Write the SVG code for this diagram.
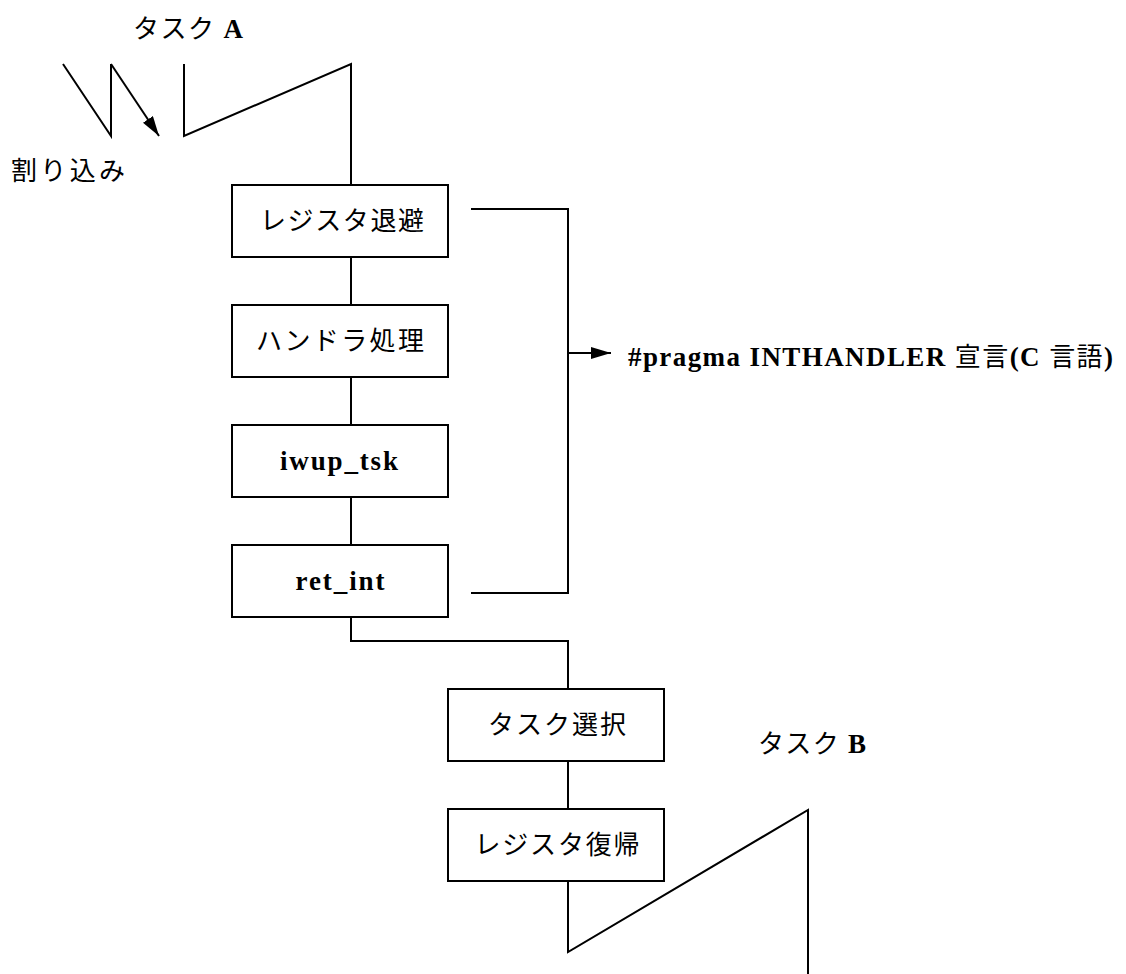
<svg xmlns="http://www.w3.org/2000/svg" width="1126" height="974" viewBox="0 0 1126 974">
<defs>
<marker id="arr2" markerWidth="20" markerHeight="12" refX="20" refY="6" orient="auto" markerUnits="userSpaceOnUse" viewBox="0 0 20 12">
<path d="M0,0 L20,6 L0,12 Z" fill="#000"/>
</marker>
<style>
.ln{fill:none;stroke:#000;stroke-width:2}
.bx{fill:#fff;stroke:#000;stroke-width:2}
.jp{font-family:"Noto Sans CJK JP","Liberation Serif",serif;font-size:26px;fill:#000}
.lt{font-family:"Liberation Serif","Noto Sans CJK JP",serif;font-weight:bold;font-size:27px;fill:#000}
</style>
</defs>
<rect width="1126" height="974" fill="#fff"/>
<g id="connectors">
<polyline class="ln" points="63,64 111,136 111,64"/>
<line class="ln" x1="111" y1="64" x2="159" y2="136" marker-end="url(#arr2)"/>
<polyline class="ln" points="184,64 184,136 351,64 351,185"/>
<line class="ln" x1="351" y1="257" x2="351" y2="305"/>
<line class="ln" x1="351" y1="377" x2="351" y2="425"/>
<line class="ln" x1="351" y1="497" x2="351" y2="545"/>
<polyline class="ln" points="351,617 351,641 568,641 568,689"/>
<line class="ln" x1="568" y1="761" x2="568" y2="809"/>
<polyline class="ln" points="568,881 568,952 808,810 808,974"/>
<polyline class="ln" points="471,209 568,209 568,593 471,593"/>
<line class="ln" x1="568" y1="353" x2="611" y2="353" marker-end="url(#arr2)"/>
</g>
<g id="label-taskA"><text x="133" y="38" textLength="110" lengthAdjust="spacing"><tspan class="jp">タスク</tspan><tspan class="lt"> A</tspan></text></g>
<g id="label-interrupt"><text class="jp" x="11" y="180" textLength="114">割り込み</text></g>
<g id="node-save"><rect class="bx" x="232" y="185" width="216" height="72"/><text class="jp" x="342" y="230" text-anchor="middle" textLength="164">レジスタ退避</text></g>
<g id="node-handler"><rect class="bx" x="232" y="305" width="216" height="72"/><text class="jp" x="340" y="350" text-anchor="middle" textLength="168">ハンドラ処理</text></g>
<g id="node-iwup"><rect class="bx" x="232" y="425" width="216" height="72"/><text class="lt" x="339" y="470" text-anchor="middle" textLength="118">iwup_tsk</text></g>
<g id="node-retint"><rect class="bx" x="232" y="545" width="216" height="72"/><text class="lt" x="340" y="590" text-anchor="middle" textLength="89">ret_int</text></g>
<g id="label-pragma"><text x="628" y="366" textLength="485" lengthAdjust="spacing"><tspan class="lt">#pragma INTHANDLER </tspan><tspan class="jp">宣言</tspan><tspan class="lt">(C </tspan><tspan class="jp">言語</tspan><tspan class="lt">)</tspan></text></g>
<g id="node-select"><rect class="bx" x="448" y="689" width="216" height="72"/><text class="jp" x="557" y="734" text-anchor="middle" textLength="138">タスク選択</text></g>
<g id="node-restore"><rect class="bx" x="448" y="809" width="216" height="72"/><text class="jp" x="557" y="854" text-anchor="middle" textLength="165">レジスタ復帰</text></g>
<g id="label-taskB"><text x="758" y="753" textLength="108" lengthAdjust="spacing"><tspan class="jp">タスク</tspan><tspan class="lt"> B</tspan></text></g>
</svg>
